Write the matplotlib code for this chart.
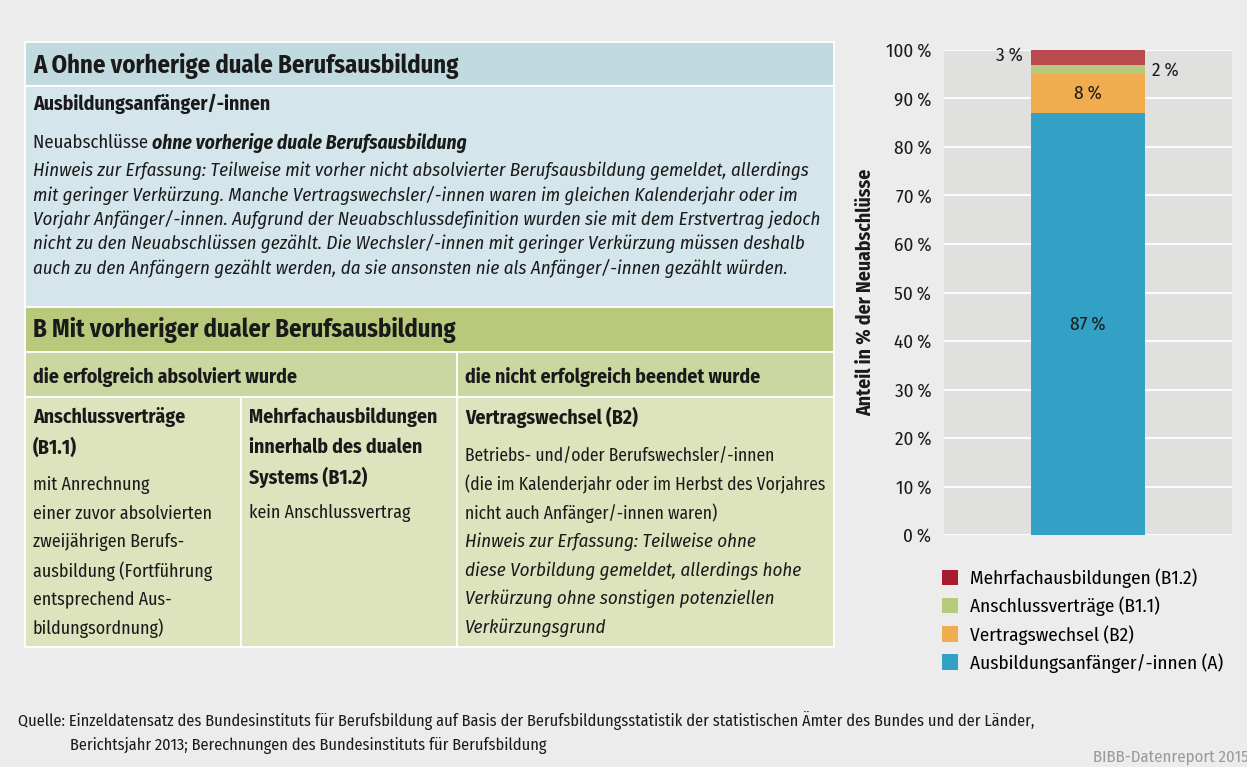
import matplotlib
matplotlib.use("Agg")
import matplotlib.pyplot as plt
from matplotlib.patches import Rectangle, Patch

plt.rcParams['font.family'] = ['Fira Sans Condensed', 'DejaVu Sans']

# ---------------- data ----------------
categories = ["Ausbildungsanfänger/-innen (A)", "Vertragswechsel (B2)",
              "Anschlussverträge (B1.1)", "Mehrfachausbildungen (B1.2)"]
values = [87, 8, 2, 3]
value_labels = ["87\u2009%", "8\u2009%", "2\u2009%", "3\u2009%"]
bar_colors = ["#33a1c5", "#f0ac4f", "#b7c97b", "#b94a4d"]
legend_colors = ["#33a1c5", "#f0ac4f", "#b7c97b", "#a61c31"]
yticks = [0, 10, 20, 30, 40, 50, 60, 70, 80, 90, 100]
ytick_labels = [f"{t}\u2009%" for t in yticks]

W, H = 1247, 767
fig = plt.figure(figsize=(W / 100, H / 100), dpi=100)
fig.patch.set_facecolor("#ececec")

# ---------------- left text panel (pixel coordinate overlay) ----------------
bg = fig.add_axes([0, 0, 1, 1])
bg.set_xlim(0, W)
bg.set_ylim(H, 0)
bg.axis("off")

def box(x0, y0, x1, y1, fc):
    bg.add_patch(Rectangle((x0, y0), x1 - x0, y1 - y0, facecolor=fc,
                           edgecolor="white", linewidth=1.3))

L, R = 25, 834
box(L, 42, R, 86, "#c1dae0")
box(L, 86, R, 307, "#d4e5ec")
box(L, 307, R, 352, "#b8c97b")
box(L, 352, 457, 397, "#cbd7a0")
box(457, 352, R, 397, "#cbd7a0")
box(L, 397, 241, 647, "#dce3bd")
box(241, 397, 457, 647, "#dce3bd")
box(457, 397, R, 647, "#dce3bd")

FS = 12.9     # regular
IFS = 13.6    # italic
BFS = 14.2    # bold
HFS = 17.8    # section headings
TC = "#1a1a1a"

def txt(x, y, s, size=FS, weight="normal", style="normal", **kw):
    return bg.text(x, y, s, fontsize=size, fontweight=weight, fontstyle=style,
                   color=TC, va="center", ha="left", **kw)

def lines(x, y0, step, items, **kw):
    for i, s in enumerate(items):
        txt(x, y0 + i * step, s, **kw)

txt(33, 66, "A Ohne vorherige duale Berufsausbildung", size=HFS, weight="bold")
txt(33, 104, "Ausbildungsanfänger/-innen", size=BFS, weight="bold")
t1 = bg.text(33, 143, "Neuabschlüsse ", fontsize=13.4, color=TC, va="center", ha="left")
bg.annotate("ohne vorherige duale Berufsausbildung", xy=(1, 0.5), xycoords=t1,
            va="center", ha="left", fontsize=14.0, fontweight="bold",
            fontstyle="italic", color=TC)
lines(33, 171, 24.3, [
    "Hinweis zur Erfassung: Teilweise mit vorher nicht absolvierter Berufsausbildung gemeldet, allerdings",
    "mit geringer Verkürzung. Manche Vertragswechsler/-innen waren im gleichen Kalenderjahr oder im",
    "Vorjahr Anfänger/-innen. Aufgrund der Neuabschlussdefinition wurden sie mit dem Erstvertrag jedoch",
    "nicht zu den Neuabschlüssen gezählt. Die Wechsler/-innen mit geringer Verkürzung müssen deshalb",
    "auch zu den Anfängern gezählt werden, da sie ansonsten nie als Anfänger/-innen gezählt würden.",
], size=IFS, style="italic")

txt(33, 330, "B Mit vorheriger dualer Berufsausbildung", size=HFS, weight="bold")
txt(33, 377, "die erfolgreich absolviert wurde", size=BFS, weight="bold")
txt(465, 377, "die nicht erfolgreich beendet wurde", size=BFS, weight="bold")

lines(33, 417, 31, ["Anschlussverträge", "(B1.1)"], size=BFS, weight="bold")
lines(33, 485, 28.7, ["mit Anrechnung", "einer zuvor absolvierten",
                      "zweijährigen Berufs-", "ausbildung (Fortführung",
                      "entsprechend Aus-", "bildungsordnung)"])
lines(249, 417, 30, ["Mehrfachausbildungen", "innerhalb des dualen",
                     "Systems (B1.2)"], size=BFS, weight="bold")
txt(249, 513, "kein Anschlussvertrag")
txt(465, 417, "Vertragswechsel (B2)", size=BFS, weight="bold")
lines(465, 456, 28.6, ["Betriebs- und/oder Berufswechsler/-innen",
                       "(die im Kalenderjahr oder im Herbst des Vorjahres",
                       "nicht auch Anfänger/-innen waren)"], size=12.6)
lines(465, 542, 28.6, ["Hinweis zur Erfassung: Teilweise ohne",
                       "diese Vorbildung gemeldet, allerdings hohe",
                       "Verkürzung ohne sonstigen potenziellen",
                       "Verkürzungsgrund"], size=IFS, style="italic")

# footer
txt(18, 720, "Quelle: Einzeldatensatz des Bundesinstituts für Berufsbildung auf Basis der "
    "Berufsbildungsstatistik der statistischen Ämter des Bundes und der Länder,", size=11.7)
txt(70, 746, "Berichtsjahr 2013; Berechnungen des Bundesinstituts für Berufsbildung", size=11.7)
bg.text(1249, 757, "BIBB-Datenreport 2015", fontsize=12, color="#9a9a9a",
        ha="right", va="center")

# ---------------- stacked bar chart ----------------
ax = fig.add_axes([944 / W, 1 - 535 / H, 288 / W, 485 / H])
ax.set_facecolor("#e0e0df")
for s in ax.spines.values():
    s.set_visible(False)
ax.set_xlim(-0.5, 0.5)
ax.set_ylim(0, 100)
ax.set_yticks(yticks)
ax.set_yticklabels(ytick_labels, fontsize=13.8, color=TC)
ax.tick_params(axis="y", length=0, pad=9)
ax.set_xticks([])
ax.yaxis.grid(True, color="white", linewidth=1.3)
ax.set_axisbelow(True)
ax.set_ylabel("Anteil in % der Neuabschlüsse", fontsize=14.2, fontweight="bold",
              color=TC, labelpad=8)

bw = 0.396
bottom = 0
bars = []
for v, c in zip(values, bar_colors):
    b = ax.bar(0, v, width=bw, bottom=bottom, color=c, linewidth=0)
    bars.append(b)
    bottom += v

# value labels: large segments inside, small ones outside
placement = ["center", "center", "right", "left"]
for b, lab, p in zip(bars, value_labels, placement):
    rect = b[0]
    yc = rect.get_y() + rect.get_height() / 2
    if p == "center":
        ax.text(rect.get_x() + rect.get_width() / 2, yc, lab, ha="center",
                va="center", fontsize=13.8, color=TC)
    elif p == "right":
        ax.annotate(lab, xy=(rect.get_x() + rect.get_width(), yc),
                    xytext=(5, -1), textcoords="offset points",
                    ha="left", va="center", fontsize=13.8, color=TC)
    else:
        ax.annotate(lab, xy=(rect.get_x(), yc), xytext=(-6, 1),
                    textcoords="offset points", ha="right", va="center",
                    fontsize=13.8, color=TC)

handles = [Patch(facecolor=c, edgecolor="none") for c in legend_colors]
leg_order = [3, 2, 1, 0]
fig.legend([handles[i] for i in leg_order], [categories[i] for i in leg_order],
           loc="upper left", bbox_to_anchor=(934 / W, 1 - 561 / H),
           frameon=False, fontsize=13.8, handlelength=0.85, handleheight=0.85,
           handletextpad=0.65, labelspacing=0.44, borderaxespad=0)

fig.savefig("out.png", dpi=100, facecolor=fig.get_facecolor())
